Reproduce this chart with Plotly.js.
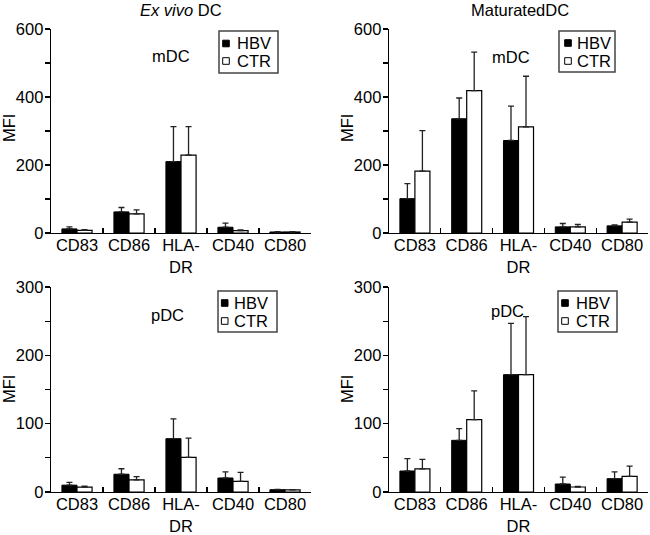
<!DOCTYPE html>
<html><head><meta charset="utf-8">
<script src="https://cdn.plot.ly/plotly-3.0.1.min.js"></script>
<style>html,body{margin:0;padding:0;background:#fff}</style>
</head><body><div id="chart" style="width:650px;height:535px"></div>
<script>
// ---- data ----
const categories = ['CD83', 'CD86', 'HLA-<br>DR', 'CD40', 'CD80'];
const seriesNames = ['HBV', 'CTR'];
const columnTitles = ['<i>Ex vivo</i> DC', 'MaturatedDC'];
const cellLabels = ['mDC', 'mDC', 'pDC', 'pDC'];
const yAxisTitle = 'MFI';

const exVivoMdcHbv = [12, 62, 210, 17, 3];
const exVivoMdcHbvErr = [6, 13, 103, 12, 1];
const exVivoMdcCtr = [8, 56, 229, 7, 3];
const exVivoMdcCtrErr = [2, 12, 84, 2, 1];

const maturedMdcHbv = [101, 336, 272, 18, 21];
const maturedMdcHbvErr = [44, 61, 101, 10, 3];
const maturedMdcCtr = [182, 419, 312, 18, 32];
const maturedMdcCtrErr = [119, 113, 149, 7, 9];

const exVivoPdcHbv = [10, 26, 78, 20.5, 3.4];
const exVivoPdcHbvErr = [4, 8, 29, 9, 0.5];
const exVivoPdcCtr = [7, 17.6, 50.7, 15.6, 3];
const exVivoPdcCtrErr = [1.5, 5, 28, 13, 0.3];

const maturedPdcHbv = [30.7, 75.6, 171.7, 11.7, 19.5];
const maturedPdcHbvErr = [18, 17, 75, 10, 10];
const maturedPdcCtr = [33.7, 105.9, 171.7, 7.3, 22.9];
const maturedPdcCtrErr = [14, 42, 85, 1, 15];

const yMaxTop = 600, yMaxBottom = 300;

// ---- layout helpers ----
const W = 650, H = 535;
const px = v => v / W;
const py = v => 1 - v / H;
const FONT = 'Liberation Sans, Arial, Helvetica, sans-serif';
const FS = 16.5;

const panels = [
  {hbv: exVivoMdcHbv, hbvErr: exVivoMdcHbvErr, ctr: exVivoMdcCtr, ctrErr: exVivoMdcCtrErr, ymax: yMaxTop,
   box: [51, 311, 29, 233], label: [171, 56], leg: {b: [219, 278, 31, 73], sq: 226, tx: 235, rows: [43.5, 61]}, mfi: [9, 128]},
  {hbv: maturedMdcHbv, hbvErr: maturedMdcHbvErr, ctr: maturedMdcCtr, ctrErr: maturedMdcCtrErr, ymax: yMaxTop,
   box: [389, 648, 29, 233], label: [511, 57], leg: {b: [559, 615, 31, 72], sq: 568, tx: 575, rows: [43, 61]}, mfi: [347, 128]},
  {hbv: exVivoPdcHbv, hbvErr: exVivoPdcHbvErr, ctr: exVivoPdcCtr, ctrErr: exVivoPdcCtrErr, ymax: yMaxBottom,
   box: [51, 311, 287, 492], label: [167, 315], leg: {b: [218, 277, 291, 332], sq: 224.7, tx: 232, rows: [303, 321]}, mfi: [9, 389]},
  {hbv: maturedPdcHbv, hbvErr: maturedPdcHbvErr, ctr: maturedPdcCtr, ctrErr: maturedPdcCtrErr, ymax: yMaxBottom,
   box: [389, 648, 287, 492], label: [507, 311], leg: {b: [558, 617, 291, 332], sq: 565, tx: 574, rows: [303, 321]}, mfi: [347, 389]}
];

const traces = [];
const layout = {
  width: W, height: H,
  margin: {l: 0, r: 0, t: 0, b: 0},
  paper_bgcolor: '#fff', plot_bgcolor: '#fff',
  font: {family: FONT, size: FS, color: '#000'},
  showlegend: false,
  barmode: 'group', bargap: 0.42, bargroupgap: 0,
  annotations: [], shapes: []
};

panels.forEach((p, i) => {
  const n = i + 1;
  const xa = n === 1 ? 'x' : 'x' + n, ya = n === 1 ? 'y' : 'y' + n;
  const zeros = p.hbv.map(() => 0);
  const errStyle = {type: 'data', symmetric: false, arrayminus: zeros, color: '#222', thickness: 1.3, width: 3};
  traces.push({
    type: 'bar', name: seriesNames[0], x: categories, y: p.hbv, xaxis: xa, yaxis: ya,
    marker: {color: '#000', line: {color: '#000', width: 1}},
    error_y: Object.assign({array: p.hbvErr}, errStyle)
  });
  traces.push({
    type: 'bar', name: seriesNames[1], x: categories, y: p.ctr, xaxis: xa, yaxis: ya,
    marker: {color: '#fff', line: {color: '#000', width: 1.2}},
    error_y: Object.assign({array: p.ctrErr}, errStyle)
  });
  const [x0, x1, y0, y1] = p.box;
  layout['xaxis' + (n === 1 ? '' : n)] = {
    domain: [px(x0), px(x1)], anchor: ya, type: 'category',
    showline: true, linecolor: '#000', linewidth: 1.3, mirror: false,
    ticks: 'inside', ticklen: 5, tickwidth: 1.3, tickcolor: '#000', tickson: 'boundaries',
    ticklabelstandoff: -3,
    showgrid: false, zeroline: false, fixedrange: true, automargin: false,
    tickfont: {size: FS, family: FONT, color: '#000'}
  };
  layout['yaxis' + (n === 1 ? '' : n)] = {
    domain: [py(y1), py(y0)], anchor: xa, range: [0, p.ymax],
    dtick: p.ymax / 3, tick0: 0,
    showline: true, linecolor: '#000', linewidth: 1.3,
    ticks: 'outside', ticklen: 5, tickwidth: 1.3, tickcolor: '#000',
    ticklabelstandoff: -2,
    minor: {dtick: p.ymax / 6, ticks: 'outside', ticklen: 5, tickwidth: 1.3, tickcolor: '#000', showgrid: false},
    showgrid: false, zeroline: false, fixedrange: true, automargin: false,
    tickfont: {size: FS, family: FONT, color: '#000'}
  };
  layout.annotations.push({text: cellLabels[i], xref: 'paper', yref: 'paper', x: px(p.label[0]), y: py(p.label[1]),
    xanchor: 'center', yanchor: 'middle', showarrow: false, font: {size: FS}});
  layout.annotations.push({text: yAxisTitle, xref: 'paper', yref: 'paper', x: px(p.mfi[0]), y: py(p.mfi[1]),
    xanchor: 'center', yanchor: 'middle', textangle: -90, showarrow: false, font: {size: FS}});
  const L = p.leg;
  layout.shapes.push({type: 'rect', xref: 'paper', yref: 'paper', x0: px(L.b[0]), x1: px(L.b[1]), y0: py(L.b[3]), y1: py(L.b[2]),
    line: {color: '#444', width: 1.5}, fillcolor: 'rgba(0,0,0,0)'});
  const s = 3.3;
  ['#000', '#fff'].forEach((c, k) => {
    layout.shapes.push({type: 'rect', xref: 'paper', yref: 'paper',
      x0: px(L.sq - s), x1: px(L.sq + s), y0: py(L.rows[k] + s), y1: py(L.rows[k] - s),
      line: {color: '#000', width: 1}, fillcolor: c});
    layout.annotations.push({text: seriesNames[k], xref: 'paper', yref: 'paper', x: px(L.tx), y: py(L.rows[k]),
      xanchor: 'left', yanchor: 'middle', showarrow: false, font: {size: FS}});
  });
});

layout.annotations.push({text: columnTitles[0], xref: 'paper', yref: 'paper', x: px(181), y: py(10),
  xanchor: 'center', yanchor: 'middle', showarrow: false, font: {size: FS}});
layout.annotations.push({text: columnTitles[1], xref: 'paper', yref: 'paper', x: px(520), y: py(10),
  xanchor: 'center', yanchor: 'middle', showarrow: false, font: {size: FS}});

Plotly.newPlot('chart', traces, layout, {staticPlot: true, displayModeBar: false});
</script>
</body></html>
